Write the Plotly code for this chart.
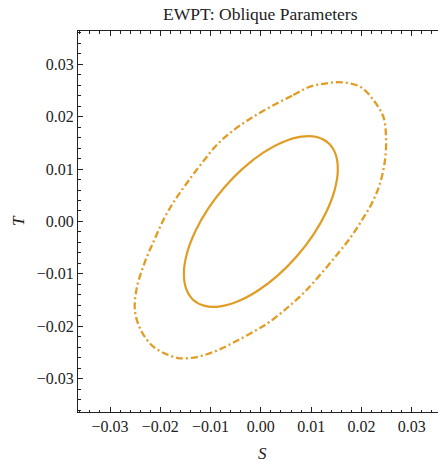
import plotly.graph_objects as go

# Inner (solid) contour
inner_S = [0.013488, 0.011155, 0.008062, 0.004420, 0.000477, -0.003499, -0.007237, -0.010481,
           -0.013011, -0.014654, -0.015300, -0.014901, -0.013488, -0.011155, -0.008062, -0.004420,
           -0.000477, 0.003499, 0.007237, 0.010481, 0.013011, 0.014654, 0.015300, 0.014901]
inner_T = [0.014932, 0.016115, 0.016200, 0.015180, 0.013127, 0.010178, 0.006537, 0.002450,
           -0.001805, -0.005936, -0.009662, -0.012731, -0.014932, -0.016115, -0.016200, -0.015180,
           -0.013127, -0.010178, -0.006537, -0.002450, 0.001805, 0.005936, 0.009662, 0.012731]

# Outer (dash-dot) contour
outer_S = [0.00017, 0.00645, 0.00978, 0.01310, 0.01608, 0.01972, 0.02236, 0.02435,
           0.02489, 0.02469, 0.02370, 0.02211, 0.02012, 0.01772, 0.01509, 0.01176,
           0.00844, 0.00514, 0.00182, 0.00000, -0.00448, -0.00846, -0.01244, -0.01608,
           -0.01841, -0.02139, -0.02370, -0.02503, -0.02469, -0.02304, -0.02105, -0.01906,
           -0.01707, -0.01475, -0.01176, -0.00846, -0.00448]
outer_T = [0.02095, 0.02414, 0.02573, 0.02637, 0.02656, 0.02573, 0.02319, 0.02000,
           0.01618, 0.01174, 0.00729, 0.00353, 0.00029, -0.00321, -0.00639, -0.01021,
           -0.01370, -0.01656, -0.01912, -0.02023, -0.02261, -0.02452, -0.02580, -0.02611,
           -0.02548, -0.02389, -0.02103, -0.01721, -0.01275, -0.00767, -0.00321, 0.00092,
           0.00410, 0.00729, 0.01111, 0.01492, 0.01809]

tick_vals = [-0.03, -0.02, -0.01, 0.0, 0.01, 0.02, 0.03]
tick_text = ["\u22120.03", "\u22120.02", "\u22120.01", "0.00", "0.01", "0.02", "0.03"]

title_text = "EWPT: Oblique Parameters"
x_label = "<i>S</i>"
y_label = "<i>T</i>"

color = "#E19C24"
font_family = "Liberation Serif"
ink = "#222"

fig = go.Figure()
fig.add_trace(go.Scatter(
    x=outer_S + outer_S[:1], y=outer_T + outer_T[:1], mode="lines",
    line=dict(color=color, width=2.3, dash="7px,3px,2px,3px", shape="spline", smoothing=1.0),
    hoverinfo="skip", showlegend=False))
fig.add_trace(go.Scatter(
    x=inner_S + inner_S[:1], y=inner_T + inner_T[:1], mode="lines",
    line=dict(color=color, width=2.2, shape="spline", smoothing=1.0),
    hoverinfo="skip", showlegend=False))

axis_common = dict(
    automargin=False,
    showgrid=False, zeroline=False, showline=True, linecolor=ink, linewidth=1,
    ticks="inside", ticklen=5, tickwidth=1, tickcolor=ink,
    tickmode="array", tickvals=tick_vals, ticktext=tick_text,
    tickfont=dict(family=font_family, size=16, color=ink),
    minor=dict(tickmode="linear", tick0=0, dtick=0.002, ticks="inside",
               ticklen=2.5, tickwidth=1, tickcolor=ink),
)

fig.update_layout(
    width=438, height=462,
    margin=dict(l=78, r=0, t=31, b=50, autoexpand=False),
    paper_bgcolor="white", plot_bgcolor="white",
    xaxis=dict(range=[-0.03637, 0.03523], mirror="ticks", **axis_common),
    yaxis=dict(range=[-0.03636, 0.03635], mirror=False, **axis_common),
    showlegend=False,
)

fig.add_annotation(text=title_text, xref="paper", yref="paper",
                   x=(260.5 - 78) / 360, y=1 + (31 - 13.7) / 381, xanchor="center", yanchor="middle",
                   showarrow=False, font=dict(family=font_family, size=17.5, color=ink))
fig.add_annotation(text=x_label, xref="paper", yref="paper",
                   x=(262 - 78) / 360, y=-(453 - 412) / 381, xanchor="center", yanchor="middle",
                   showarrow=False, font=dict(family=font_family, size=17, color=ink))
fig.add_annotation(text=y_label, xref="paper", yref="paper", textangle=-90,
                   x=-(78 - 18) / 360, y=(412 - 221) / 381, xanchor="center", yanchor="middle",
                   showarrow=False, font=dict(family=font_family, size=17, color=ink))

fig.write_html("out.html",
               config={"displayModeBar": False, "staticPlot": True},
               post_script="document.body.style.margin='0';document.body.style.overflow='hidden';")
